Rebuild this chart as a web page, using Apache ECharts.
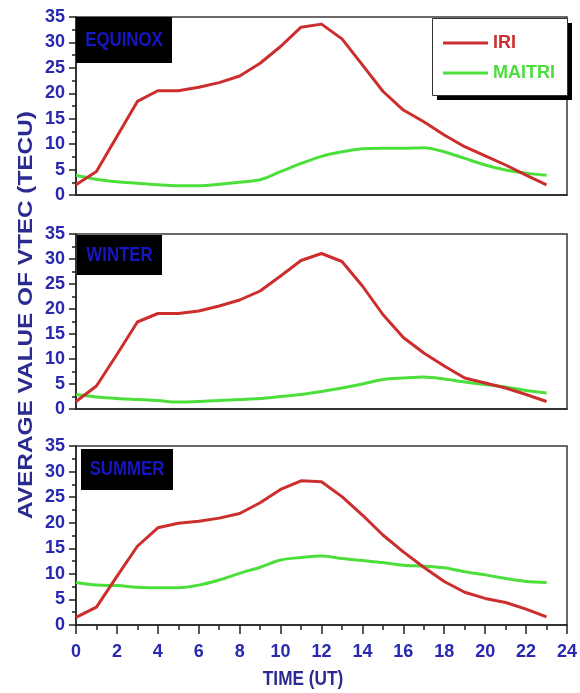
<!DOCTYPE html>
<html>
<head>
<meta charset="utf-8">
<script src="https://cdn.jsdelivr.net/npm/echarts@6/dist/echarts.min.js"></script>
<style>html,body{margin:0;padding:0;background:#fff;}#c{width:580px;height:693px;}</style>
</head>
<body>
<div id="c"></div>
<script>
const hours = [0,1,2,3,4,5,6,7,8,9,10,11,12,13,14,15,16,17,18,19,20,21,22,23];
const panelNames = ['EQUINOX', 'WINTER', 'SUMMER'];
const seriesNames = ['IRI', 'MAITRI'];
const yTicks = [0, 5, 10, 15, 20, 25, 30, 35];
const xTicks = [0, 2, 4, 6, 8, 10, 12, 14, 16, 18, 20, 22, 24];

const equinoxIRI    = [2.0,4.6,11.5,18.4,20.5,20.5,21.2,22.1,23.4,25.9,29.2,33.0,33.6,30.7,25.6,20.4,16.7,14.4,11.8,9.5,7.7,5.9,3.9,2.0];
const equinoxMAITRI = [3.9,3.1,2.6,2.3,2.0,1.8,1.8,2.1,2.5,3.0,4.6,6.2,7.6,8.5,9.1,9.2,9.2,9.3,8.5,7.2,5.9,4.9,4.3,3.9];
const winterIRI     = [1.5,4.6,10.9,17.4,19.1,19.1,19.6,20.6,21.8,23.6,26.6,29.7,31.1,29.5,24.6,18.9,14.3,11.2,8.6,6.2,5.2,4.2,2.9,1.5];
const winterMAITRI  = [2.9,2.4,2.1,1.9,1.7,1.4,1.5,1.7,1.9,2.1,2.5,2.9,3.5,4.2,5.0,5.9,6.2,6.4,6.0,5.4,4.9,4.4,3.7,3.2];
const summerIRI     = [1.5,3.5,9.5,15.4,19.0,19.9,20.3,20.9,21.8,23.9,26.5,28.2,28.0,25.1,21.5,17.6,14.3,11.3,8.5,6.4,5.2,4.4,3.1,1.6];
const summerMAITRI  = [8.3,7.8,7.7,7.4,7.3,7.3,7.8,8.8,10.1,11.3,12.7,13.2,13.5,13.0,12.6,12.2,11.7,11.5,11.2,10.4,9.8,9.1,8.5,8.3];

const panelData = [[equinoxIRI, equinoxMAITRI],[winterIRI, winterMAITRI],[summerIRI, summerMAITRI]];

const RED = '#cc2e2e';
const GREEN = '#4cdf3c';
const BLUE = '#2828b0';
const FONT = "'Liberation Sans', Arial, sans-serif";

const grids = [
  {left: 76, width: 491, top: 17, height: 178},
  {left: 76, width: 491, top: 234, height: 175},
  {left: 76, width: 491, top: 446, height: 179}
].map(g => Object.assign(g, {show: true, borderColor: '#3a3a3a', borderWidth: 1.5, backgroundColor: 'transparent'}));

const xAxes = grids.map((g, i) => ({
  type: 'value', gridIndex: i, min: xTicks[0], max: xTicks[xTicks.length - 1], interval: 2,
  axisLine: {show: true, onZero: false, lineStyle: {color: '#222', width: 1.5}},
  axisTick: {show: i === 2, length: 9, lineStyle: {color: '#222', width: 1.5}},
  minorTick: {show: i === 2, splitNumber: 2, length: 5, lineStyle: {color: '#222', width: 1.5}},
  axisLabel: {show: i === 2, color: BLUE, fontFamily: FONT, fontWeight: 'bold', fontSize: 18, margin: 18},
  splitLine: {show: false}
}));

const yAxes = grids.map((g, i) => ({
  type: 'value', gridIndex: i, min: yTicks[0], max: yTicks[yTicks.length - 1], interval: 5,
  axisLine: {show: true, lineStyle: {color: '#222', width: 1.5}},
  axisTick: {show: true, length: 7, lineStyle: {color: '#222', width: 1.5}},
  minorTick: {show: true, splitNumber: 2, length: 4, lineStyle: {color: '#222', width: 1.5}},
  axisLabel: {color: BLUE, fontFamily: FONT, fontWeight: 'bold', fontSize: 18, margin: 11},
  splitLine: {show: false}
}));

const series = [];
panelData.forEach((pair, i) => {
  pair.forEach((vals, k) => {
    series.push({
      name: seriesNames[k], type: 'line', xAxisIndex: i, yAxisIndex: i,
      data: hours.map((h, j) => [h, vals[j]]),
      showSymbol: false, smooth: k === 0 ? false : 0.3,
      lineStyle: {color: k === 0 ? RED : GREEN, width: 3, join: 'round'},
      itemStyle: {color: k === 0 ? RED : GREEN},
      z: k === 0 ? 3 : 2
    });
  });
});

const boxes = [
  {x: 76, y: 17, w: 96, h: 46},
  {x: 77, y: 235, w: 85, h: 40},
  {x: 81, y: 449, w: 92, h: 41}
];
const graphic = [];
boxes.forEach((b, i) => {
  graphic.push({type: 'rect', left: b.x, top: b.y, shape: {width: b.w, height: b.h}, style: {fill: '#000'}, z: 10});
  graphic.push({type: 'text', x: b.x + b.w / 2, y: b.y + b.h / 2, scaleX: 0.8,
    style: {text: panelNames[i], fill: '#1616c4', font: "bold 21px " + FONT, textAlign: 'center', textVerticalAlign: 'middle'}, z: 11});
});
// legend frame with hard shadow
graphic.push({type: 'rect', left: 437, top: 23, shape: {width: 135, height: 77}, style: {fill: '#000'}, z: 1});
graphic.push({type: 'rect', left: 432, top: 18, shape: {width: 135, height: 77}, style: {fill: '#fff', stroke: '#333', lineWidth: 1}, z: 2});
graphic.push({type: 'text', x: 26, y: 315, rotation: Math.PI / 2, scaleX: 1.16,
  style: {text: 'AVERAGE VALUE OF VTEC (TECU)', fill: '#2a2a90', font: "bold 21px " + FONT, textAlign: 'center', textVerticalAlign: 'middle'}, z: 11});
graphic.push({type: 'text', x: 303, y: 679, scaleX: 0.82,
  style: {text: 'TIME (UT)', fill: '#2a2a90', font: "bold 21px " + FONT, textAlign: 'center', textVerticalAlign: 'middle'}, z: 11});

const chart = echarts.init(document.getElementById('c'), null, {renderer: 'canvas'});
chart.setOption({
  animation: false,
  backgroundColor: '#fff',
  grid: grids, xAxis: xAxes, yAxis: yAxes, series: series, graphic: graphic,
  legend: {
    orient: 'vertical', left: 443, top: 34,
    padding: 0, itemGap: 12,
    itemWidth: 45, itemHeight: 3, icon: 'rect',
    z: 20,
    data: [
      {name: seriesNames[0], textStyle: {color: RED}},
      {name: seriesNames[1], textStyle: {color: GREEN}}
    ],
    textStyle: {fontFamily: FONT, fontWeight: 'bold', fontSize: 18, padding: [2, 0, 0, 0]}
  }
});
</script>
</body>
</html>
